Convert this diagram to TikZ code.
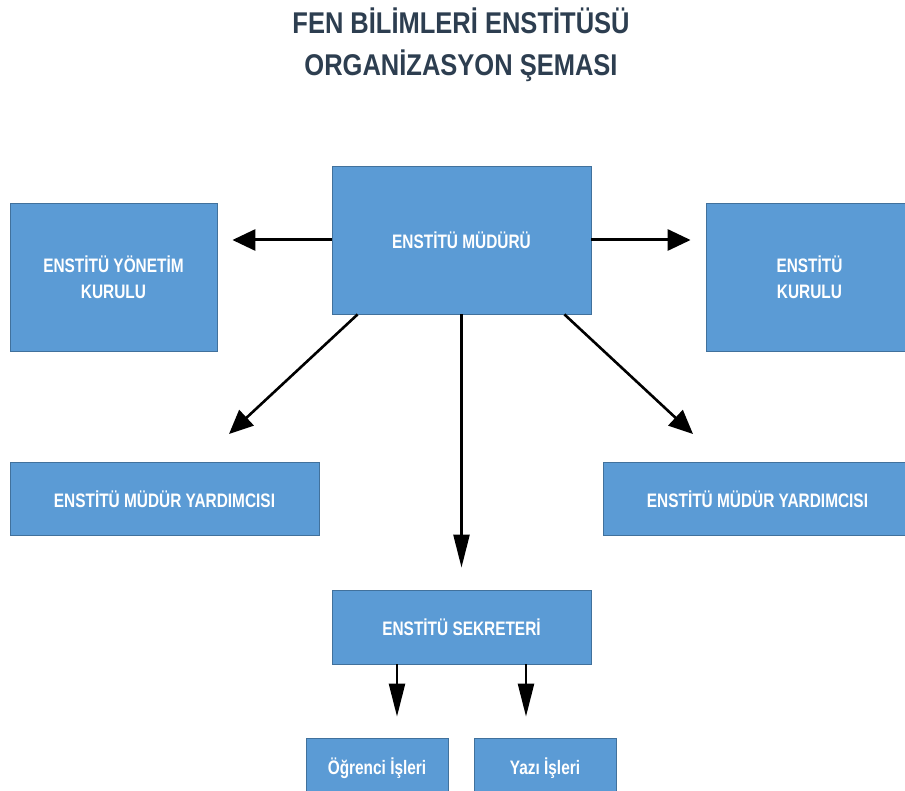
\documentclass[tikz,border=0pt]{standalone}
\usepackage{fontspec}
\setmainfont{Liberation Sans}[FakeStretch=0.85]
\newfontfamily\boxfont{Liberation Sans}[FakeStretch=0.79]
\usetikzlibrary{arrows.meta}
\definecolor{boxfill}{HTML}{5B9BD5}
\definecolor{boxline}{HTML}{41719C}
\definecolor{titlecol}{RGB}{45,62,80}
\tikzset{
  orgbox/.style={draw=boxline, line width=0.8pt, fill=boxfill, inner sep=0pt,
    align=center, text=white, font=\boxfont\fontsize{19.5}{26}\selectfont\bfseries},
  bigarr/.style={line width=3pt, -{Triangle[length=23pt,width=21pt]}},
  diagarr/.style={line width=2.6pt, -{Triangle[length=24pt,width=21pt]}},
  vertarr/.style={line width=2.4pt, -{Triangle[length=33pt,width=16pt]}},
}
\begin{document}
\begin{tikzpicture}[x=1pt,y=-1pt]
\useasboundingbox (0,0) rectangle (905,791);
\clip (0,0) rectangle (905,791);
\fill[white] (0,0) rectangle (905,791);
% title
\node[text=titlecol, font=\fontsize{30}{42}\selectfont\bfseries, align=center, inner sep=0pt] (title) at (461,45)
  {FEN BİLİMLERİ ENSTİTÜSÜ\\ORGANİZASYON ŞEMASI};
% boxes
\node[orgbox, minimum width=259pt, minimum height=148pt] (mudur) at (461.5,240) {ENSTİTÜ MÜDÜRÜ};
\node[orgbox, minimum width=207pt, minimum height=148pt] (yk) at (113.5,277) {ENSTİTÜ YÖNETİM\\KURULU};
\node[orgbox, minimum width=207pt, minimum height=148pt] (kurul) at (809.5,277) {ENSTİTÜ\\KURULU};
\node[orgbox, minimum width=309pt, minimum height=73pt] (myl) at (164.5,499) {ENSTİTÜ MÜDÜR YARDIMCISI};
\node[orgbox, minimum width=309pt, minimum height=73pt] (myr) at (757.5,499) {ENSTİTÜ MÜDÜR YARDIMCISI};
\node[orgbox, minimum width=259pt, minimum height=74pt] (sek) at (461.5,627) {ENSTİTÜ SEKRETERİ};
\node[orgbox, minimum width=142pt, minimum height=60pt] (ogr) at (377,768) {Öğrenci İşleri};
\node[orgbox, minimum width=142pt, minimum height=60pt] (yazi) at (545,768) {Yazı İşleri};
% free ends of diagonal arrows
\coordinate (dl) at (229,434);
\coordinate (dr) at (693,434);
% connectors
\draw[bigarr, shorten >=15pt] (mudur.west) -- (mudur.west -| yk.east);
\draw[bigarr, shorten >=15pt] (mudur.east) -- (mudur.east -| kurul.west);
\draw[diagarr] ([xshift=26pt]mudur.south west) -- (dl);
\draw[diagarr] ([xshift=-27pt]mudur.south east) -- (dr);
\draw[vertarr, shorten >=22pt] (mudur.south) -- (sek.north);
\draw[vertarr, shorten >=21pt] ([xshift=-64.5pt]sek.south) -- ([xshift=20pt]ogr.north);
\draw[vertarr, shorten >=21pt] ([xshift=64.5pt]sek.south) -- ([xshift=-19pt]yazi.north);
\end{tikzpicture}
\end{document}
